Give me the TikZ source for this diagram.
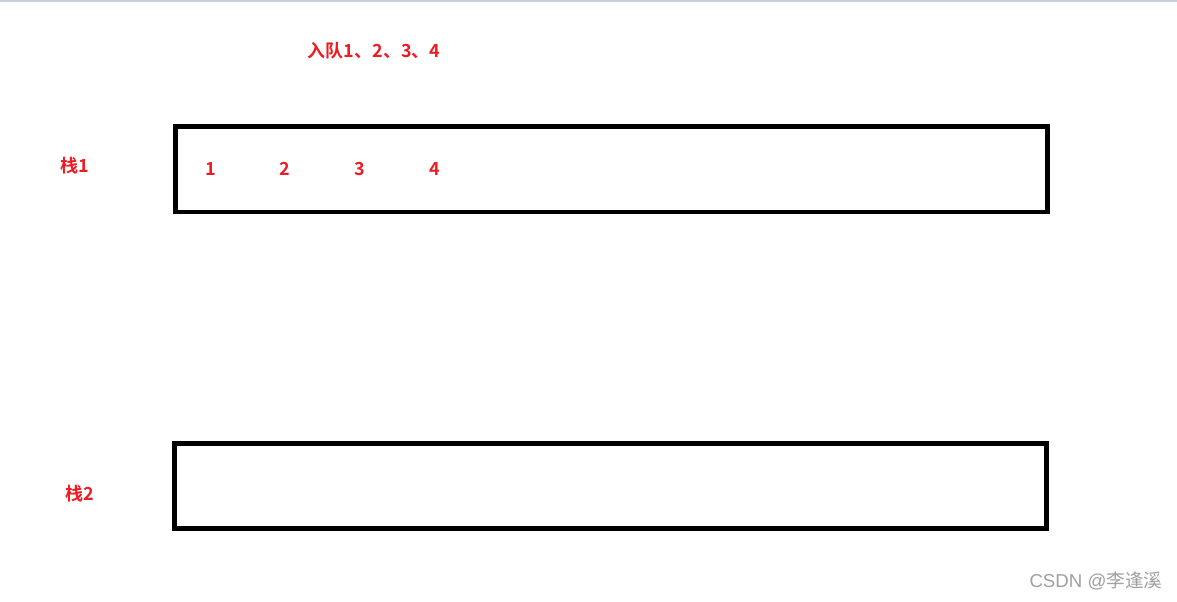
\documentclass[tikz,border=0pt]{standalone}
\usepackage{fontspec}
\newfontfamily\cjk{Noto Sans CJK SC}[BoldFont={Noto Sans CJK SC Bold}]
\newfontfamily\wmlatin{Liberation Sans}
\definecolor{lblred}{RGB}{237,28,36}
\definecolor{wmgray}{RGB}{160,160,160}
\definecolor{topline}{RGB}{200,208,222}
\begin{document}
\begin{tikzpicture}[x=0.75pt,y=-0.75pt,
  lbl/.style={text=lblred,font=\cjk\bfseries\fontsize{13.5}{16}\selectfont,inner sep=0pt,anchor=center},
  stackbox/.style={draw=black,line width=3.4pt,fill=none}]
\useasboundingbox (0,0) rectangle (1177,601);
\fill[white] (0,0) rectangle (1177,601);
\fill[topline] (0,0) rectangle (1177,2);
% boxes
\draw[stackbox] (175.5,126.5) rectangle (1047.5,212) node[pos=0,inner sep=0pt] (s1) {};
\draw[stackbox] (174.5,443.5) rectangle (1046.5,528.5) node[pos=0,inner sep=0pt] (s2) {};
% labels
\node[lbl] (title) at (374,51) {入队1、2、3、4};
\node[lbl] (l1) at (75,166) {栈1};
\node[lbl] (l2) at (80,494) {栈2};
\node[lbl] (n1) at (211,169) {1};
\node[lbl] (n2) at (285,169) {2};
\node[lbl] (n3) at (360,169) {3};
\node[lbl] (n4) at (435,169) {4};
% watermark
\node[text=wmgray,font=\cjk\fontsize{14}{16}\selectfont,inner sep=0pt] (wm) at (1096,581) {{\wmlatin CSDN @}李逢溪};
\end{tikzpicture}
\end{document}
